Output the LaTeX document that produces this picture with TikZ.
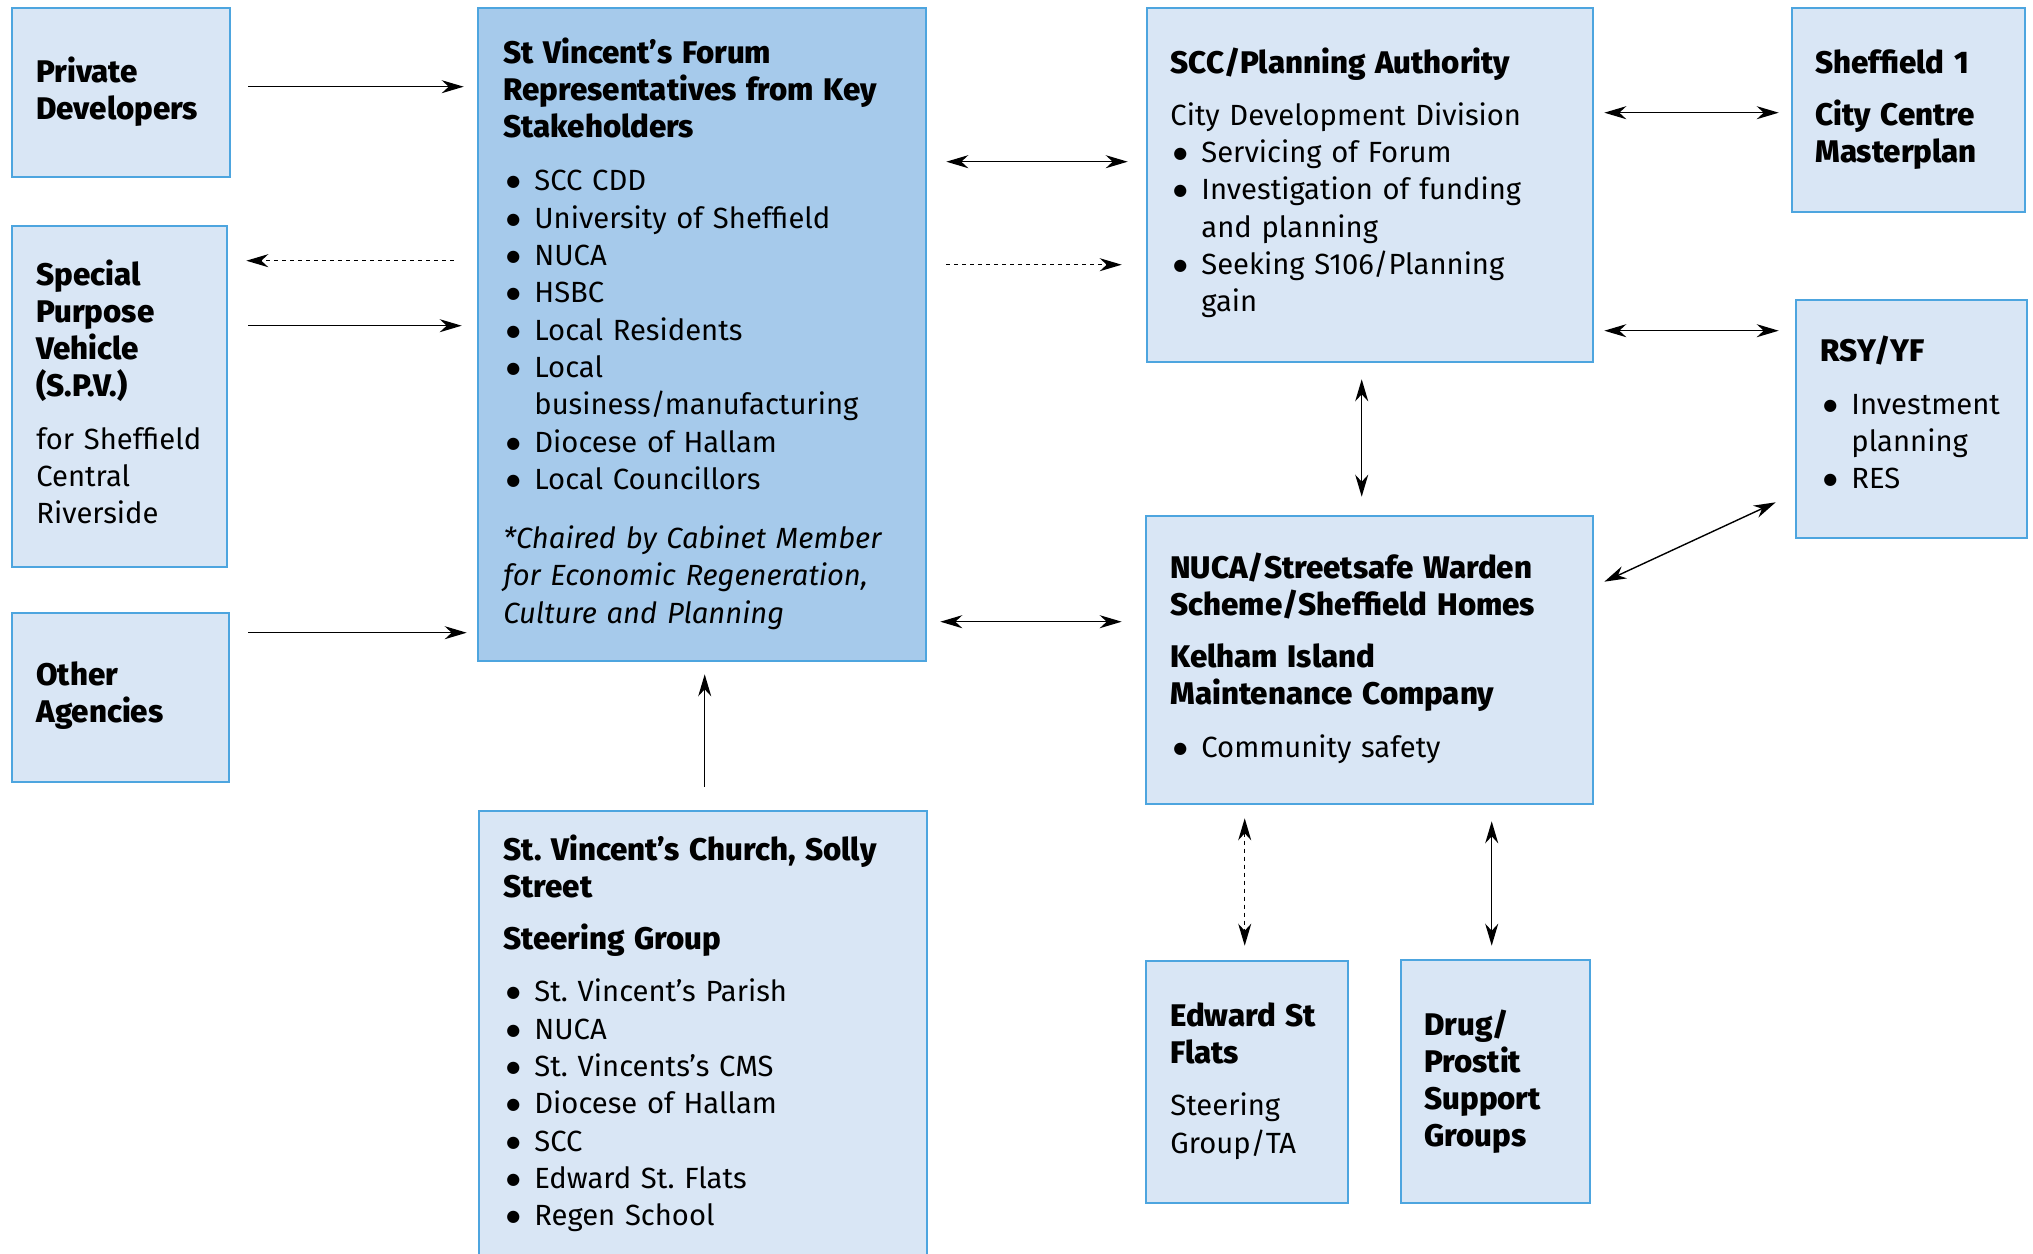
\documentclass[tikz,border=0pt]{standalone}
\usepackage{fontspec}
\setmainfont{Fira Sans}[BoldFont={Fira Sans ExtraBold},BoldFeatures={Scale=1.07}]
\newfontfamily\dvfont{DejaVu Sans}
\usetikzlibrary{arrows.meta,fit,calc}
\definecolor{boxfill}{RGB}{217,230,245}
\definecolor{forumfill}{RGB}{166,202,235}
\definecolor{boxline}{RGB}{77,165,223}
\newcommand{\nl}{\hfil\break}
\newcommand{\bul}[1]{\par\hangindent=15.5pt\hangafter=1\noindent\makebox[15.5pt][l]{\hspace{1.5pt}\raisebox{2pt}{\dvfont\fontsize{8}{8}\selectfont ●}}#1}
\newcommand{\gap}{\par\vspace{7.5pt}}
\frenchspacing
\begin{document}
\begin{tikzpicture}[x=0.5pt,y=-0.5pt,
  box/.style={draw=boxline,line width=1.3pt,fill=boxfill,inner sep=0pt},
  fbox/.style={box,fill=forumfill},
  txt/.style={anchor=north west,inner sep=0pt,align=left,yshift=1.5pt,font=\fontsize{14.6}{18.65}\selectfont\frenchspacing},
  arr/.style={line width=0.7pt,-{Stealth[length=11pt,width=6.5pt,inset=3.5pt]}},
  darr/.style={line width=0.7pt,{Stealth[length=11pt,width=6.5pt,inset=3.5pt]}-{Stealth[length=11pt,width=6.5pt,inset=3.5pt]}},
  dsh/.style={dash pattern=on 2pt off 2pt}]
\fill[white] (0,0) rectangle (2033,1253);
\useasboundingbox (0,0) rectangle (2033,1253);
% boxes
\node[box,fit={(12,8)(230,177)}] (pd) {};
\node[box,fit={(12,226)(227,567)}] (spv) {};
\node[box,fit={(12,613)(229,782)}] (oa) {};
\node[fbox,fit={(478,8)(926,661)}] (fo) {};
\node[box,fit={(479,811)(927,1275)}] (ch) {};
\node[box,fit={(1147,8)(1593,362)}] (pl) {};
\node[box,fit={(1146,516)(1593,804)}] (nu) {};
\node[box,fit={(1792,8)(2025,212)}] (sh) {};
\node[box,fit={(1796,300)(2027,538)}] (rs) {};
\node[box,fit={(1146,961)(1348,1203)}] (ed) {};
\node[box,fit={(1401,960)(1590,1203)}] (dr) {};
% texts
\node[txt,text width=100pt] (tpd) at (36,59) {\textbf{Private\\Developers}};
\node[txt,text width=100pt] (tspv) at (36,262) {\textbf{Special\\Purpose\\Vehicle\\(S.P.V.)}\gap for Sheffield\\Central\\Riverside};
\node[txt,text width=100pt] (toa) at (36,664) {\textbf{Other\\Agencies}};
\node[txt,text width=210pt] (tfo) at (503,40) {\textbf{St Vincent’s Forum\\Representatives from Key\\Stakeholders}\par\vspace{8pt}%
\bul{SCC CDD}\bul{University of Sheffield}\bul{NUCA}\bul{HSBC}\bul{Local Residents}\bul{Local\nl business/manufacturing}\bul{Diocese of Hallam}\bul{Local Councillors}\par\vspace{11pt}%
\noindent\textit{*Chaired by Cabinet Member\\for Economic Regeneration,\\Culture and Planning}};
\node[txt,text width=215pt] (tpl) at (1170,50) {\textbf{SCC/Planning Authority}\gap City Development Division\bul{Servicing of Forum}\bul{Investigation of funding\nl and planning}\bul{Seeking S106/Planning\nl gain}\par};
\node[txt,text width=105pt] (tsh) at (1815,52) {\textbf{Sheffield 1}\gap\textbf{City Centre\\Masterplan}};
\node[txt,text width=105pt] (trs) at (1820,339) {\textbf{RSY/YF}\gap\bul{Investment\nl planning}\bul{RES}\par};
\node[txt,text width=215pt] (tnu) at (1170,555) {\textbf{NUCA/Streetsafe Warden\\Scheme/Sheffield Homes}\gap\textbf{Kelham Island\\Maintenance Company}\gap\bul{Community safety}\par};
\node[txt,text width=215pt] (tch) at (503,837) {\textbf{St. Vincent’s Church, Solly\\Street}\gap\textbf{Steering Group}\gap\bul{St. Vincent’s Parish}\bul{NUCA}\bul{St. Vincents’s CMS}\bul{Diocese of Hallam}\bul{SCC}\bul{Edward St. Flats}\bul{Regen School}\par};
\node[txt,text width=95pt] (ted) at (1170,1005) {\textbf{Edward St\\Flats}\gap Steering\\Group/TA};
\node[txt,text width=88pt] (tdr) at (1424,1012) {\textbf{Drug/\\Prostit\\Support\\Groups}};
% connectors
\draw[arr] ($(pd.north east)+(17,80)$) -- ($(fo.north west)+(-13,80)$);
\draw[arr,dsh] ($(fo.north west)+(-23,254)$) -- ($(spv.north east)+(18,36)$);
\draw[arr] ($(spv.north east)+(20,101)$) -- ($(fo.north west)+(-15,319)$);
\draw[arr] ($(oa.north east)+(18,21)$) -- ($(fo.north west)+(-10,626)$);
\draw[darr] ($(fo.north east)+(19,155)$) -- ($(pl.north west)+(-18,155)$);
\draw[arr,dsh] ($(fo.north east)+(19,258)$) -- ($(pl.north west)+(-24,258)$);
\draw[darr] ($(fo.north east)+(13,615)$) -- ($(nu.north west)+(-23,107)$);
\draw[darr] ($(pl.north east)+(10,106)$) -- ($(sh.north west)+(-12,106)$);
\draw[darr] ($(pl.north east)+(10,324)$) -- ($(rs.north west)+(-16,32)$);
\draw[darr] ($(pl.south west)+(216,16)$) -- ($(nu.north west)+(217,-18)$);
\draw[darr] ($(nu.north east)+(10,67)$) -- ($(rs.south west)+(-19,-37)$);
\draw[darr,dsh] ($(nu.south west)+(100,13)$) -- ($(ed.north west)+(100,-14)$);
\draw[darr] ($(nu.south west)+(347,16)$) -- ($(dr.north west)+(92,-13)$);
\draw[arr] ($(ch.north west)+(227,-23)$) -- ($(fo.south west)+(228,12)$);
\end{tikzpicture}
\end{document}
